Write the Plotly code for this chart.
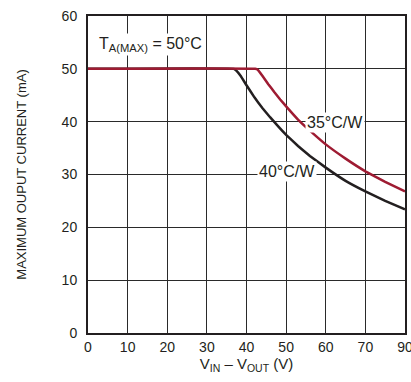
import plotly.graph_objects as go

# Values
x_ticks = [0, 10, 20, 30, 40, 50, 60, 70, 80]
x_tick_labels = ["0", "10", "20", "30", "40", "50", "60", "70", "90"]
y_ticks = [0, 10, 20, 30, 40, 50, 60]

x_40cw = [0, 36.8, 37.5, 38.5, 40, 42, 44, 46, 48, 50, 53, 56, 60, 65, 70, 75, 80]
i_40cw = [50, 50, 49.6, 48.7, 46.9, 44.6, 42.6, 40.8, 39.1, 37.5, 35.4, 33.5, 31.3, 28.8, 26.8, 25.0, 23.4]

x_35cw = [0, 42.2, 42.9, 44, 45.5, 47, 48.5, 50, 53, 56, 60, 65, 70, 75, 80]
i_35cw = [50, 50, 49.8, 48.7, 47.1, 45.6, 44.2, 42.9, 40.4, 38.3, 35.7, 33.0, 30.6, 28.6, 26.8]

FONT = "Liberation Sans, Arial, sans-serif"
INK = "#231f20"

fig = go.Figure()
fig.add_trace(go.Scatter(x=x_40cw, y=i_40cw, mode="lines",
                         line=dict(color=INK, width=2.5, shape="spline", smoothing=0.2),
                         showlegend=False, hoverinfo="skip"))
fig.add_trace(go.Scatter(x=x_35cw, y=i_35cw, mode="lines",
                         line=dict(color="#9e1b32", width=2.5, shape="spline", smoothing=0.2),
                         showlegend=False, hoverinfo="skip"))

ann_font = dict(family=FONT, size=16, color=INK)
fig.add_annotation(x=15.8, y=54.6, text="T<sub>A(MAX)</sub> = 50°C", showarrow=False,
                   font=ann_font, bgcolor="white", borderpad=1)
fig.add_annotation(x=62.4, y=39.9, text="35°C/W", showarrow=False,
                   font=ann_font, bgcolor="white", borderpad=1)
fig.add_annotation(x=50.2, y=30.6, text="40°C/W", showarrow=False,
                   font=ann_font, bgcolor="white", borderpad=1)

fig.update_layout(
    width=411, height=382,
    margin=dict(l=88, r=6, t=16, b=49),
    paper_bgcolor="white", plot_bgcolor="white",
    font=dict(family=FONT, size=14, color=INK),
    xaxis=dict(range=[0, 80], tickvals=x_ticks, ticktext=x_tick_labels,
               showgrid=True, gridcolor="#2a2a2a", gridwidth=1,
               showline=True, linecolor=INK, linewidth=2, mirror=True,
               zeroline=False, ticks="", ticklen=0, automargin=False,
               tickfont=dict(size=14), ticklabelstandoff=0, ticklabeloverflow="allow",
               title=dict(text="V<sub>IN</sub> – V<sub>OUT</sub> (V)", font=dict(size=15), standoff=5)),
    yaxis=dict(range=[0, 60], tickvals=y_ticks,
               showgrid=True, gridcolor="#2a2a2a", gridwidth=1,
               showline=True, linecolor=INK, linewidth=2, mirror=True,
               zeroline=False, ticks="", ticklen=0, automargin=False,
               tickfont=dict(size=14), ticklabelstandoff=6,
               title=dict(text="MAXIMUM OUPUT CURRENT (mA)", font=dict(size=13), standoff=32)),
)

fig.write_html("out.html", config={"displayModeBar": False},
               post_script="document.body.style.margin='0';document.body.style.overflow='hidden';")
